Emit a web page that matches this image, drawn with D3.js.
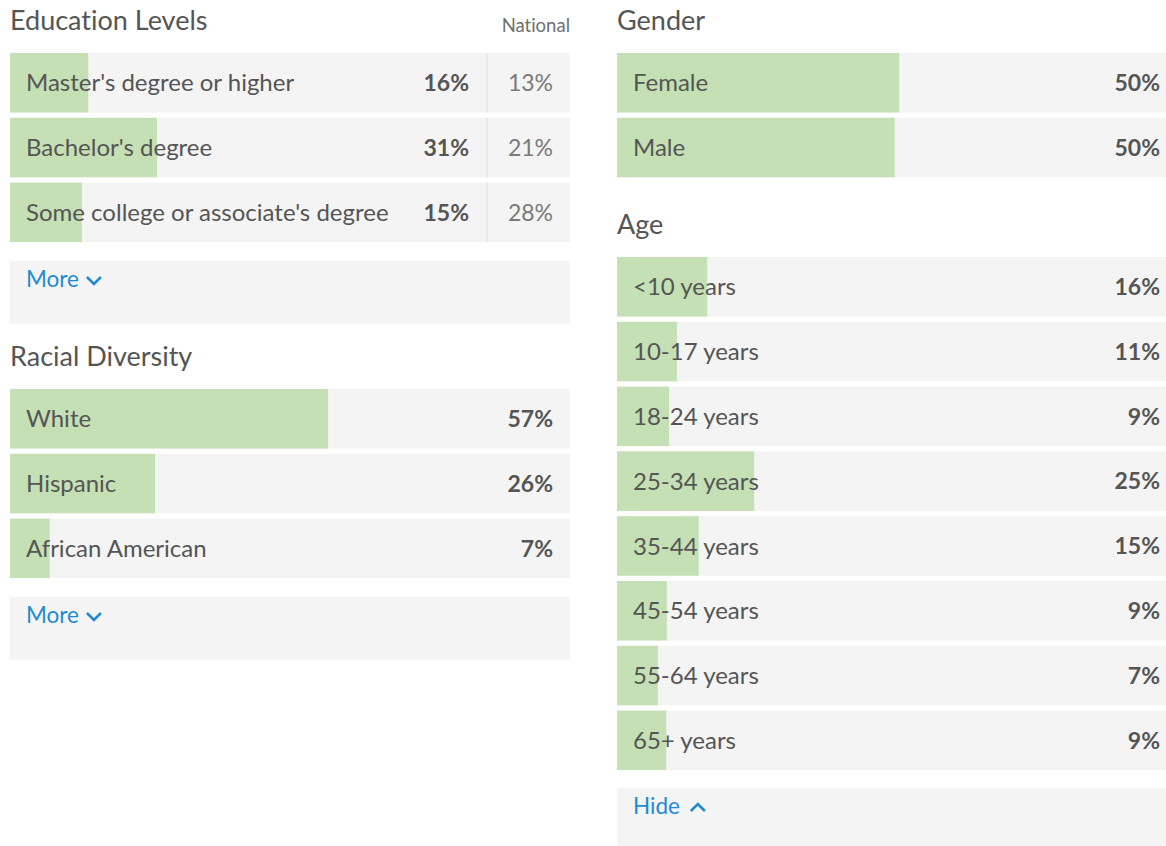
<!DOCTYPE html>
<html>
<head>
<meta charset="utf-8">
<script src="https://cdn.jsdelivr.net/npm/d3@7"></script>
<style>
  body { margin: 0; background: #fff; }
  svg { display: block; font-family: "Source Sans Pro", Lato, sans-serif; font-variant-ligatures: none; }
</style>
</head>
<body>
<div id="chart"></div>
<script>
// values (bar widths are unrounded, labels are rounded)
const eduLabels = ["Master's degree or higher", "Bachelor's degree", "Some college or associate's degree"];
const eduValues = [16.4, 30.8, 15.1];
const eduNational = [13, 21, 28];

const raceLabels = ["White", "Hispanic", "African American"];
const raceValues = [56.8, 25.9, 7.1];

const genderLabels = ["Female", "Male"];
const genderValues = [50.4, 49.6];

const ageLabels = ["<10 years", "10-17 years", "18-24 years", "25-34 years", "35-44 years", "45-54 years", "55-64 years", "65+ years"];
const ageValues = [16.1, 10.7, 9.3, 24.5, 14.6, 8.9, 7.3, 8.8];

const W = 1166, H = 846;
const GREEN = "#c5e0b4", GREY = "#f4f4f4", TEXT = "#555", BLUE = "#1f8ad2";
const STEP = 64.8, ROWH = 59.5, PANELW = 560;

const svg = d3.select("#chart")
    .append("svg")
    .attr("width", W)
    .attr("height", H);

const fmt = v => Math.round(v) + "%";

function title(x, y, text) {
    svg.append("text")
        .attr("x", x)
        .attr("y", y)
        .attr("font-size", "27px")
        .attr("fill", TEXT)
        .text(text);
}

// one block of bars; national column is optional
function section(x0, y0, labels, values, national) {
    const n = labels.length;
    const y = d3.scaleBand()
        .domain(labels)
        .range([y0, y0 + n * STEP])
        .paddingInner((STEP - ROWH) / STEP)
        .paddingOuter((STEP - ROWH) / STEP / 2)
        .align(0);

    // with a national column the bar only spans the part left of the divider
    const barW = national ? 477 : PANELW;
    const x = d3.scaleLinear().domain([0, 100]).range([0, barW]);

    const g = svg.append("g").attr("transform", `translate(${x0},0)`);
    const rows = g.selectAll("g.row")
        .data(labels)
        .join("g")
        .attr("class", "row")
        .attr("transform", d => `translate(0,${y(d)})`);

    rows.append("rect")
        .attr("width", PANELW)
        .attr("height", y.bandwidth())
        .attr("fill", GREY);

    rows.append("rect")
        .attr("width", (d, i) => x(values[i]))
        .attr("height", y.bandwidth())
        .attr("fill", GREEN);

    rows.append("text")
        .attr("x", 16)
        .attr("y", y.bandwidth() / 2)
        .attr("dy", "0.36em")
        .attr("font-size", "24px")
        .attr("fill", TEXT)
        .text(d => d);

    rows.append("text")
        .attr("x", national ? barW - 18 : PANELW - 17)
        .attr("y", y.bandwidth() / 2)
        .attr("dy", "0.36em")
        .attr("text-anchor", "end")
        .attr("font-size", "23px")
        .attr("font-weight", "bold")
        .attr("fill", TEXT)
        .text((d, i) => fmt(values[i]));

    if (national) {
        rows.append("line")
            .attr("x1", barW).attr("x2", barW)
            .attr("y1", 0).attr("y2", y.bandwidth())
            .attr("stroke", "#dcdcdc")
            .attr("stroke-width", 1);

        rows.append("text")
            .attr("x", PANELW - 17)
            .attr("y", y.bandwidth() / 2)
            .attr("dy", "0.36em")
            .attr("text-anchor", "end")
            .attr("font-size", "23px")
            .attr("fill", "#7a7a7a")
            .text((d, i) => fmt(national[i]));
    }
    return y0 + n * STEP;
}

function toggle(x0, y0, label, up) {
    svg.append("rect")
        .attr("x", x0)
        .attr("y", y0)
        .attr("width", PANELW)
        .attr("height", 63)
        .attr("fill", GREY);

    const t = svg.append("text")
        .attr("x", x0 + 16)
        .attr("y", y0 + 26)
        .attr("font-size", "22.5px")
        .attr("fill", BLUE)
        .text(label);

    const tx = x0 + 16 + t.node().getComputedTextLength() + (up ? 11 : 8);
    const cy = y0 + 19;
    svg.append("path")
        .attr("d", up
            ? `M${tx},${cy + 4} L${tx + 7},${cy - 3} L${tx + 14},${cy + 4}`
            : `M${tx},${cy - 3} L${tx + 7},${cy + 4} L${tx + 14},${cy - 3}`)
        .attr("fill", "none")
        .attr("stroke", BLUE)
        .attr("stroke-width", 2.6);
}

// left column
title(10, 30, "Education Levels");
svg.append("text")
    .attr("x", 570)
    .attr("y", 32)
    .attr("text-anchor", "end")
    .attr("font-size", "18.5px")
    .attr("fill", "#6f6f6f")
    .text("National");
section(10, 53, eduLabels, eduValues, eduNational);
toggle(10, 261, "More", false);

title(10, 366, "Racial Diversity");
section(10, 389, raceLabels, raceValues);
toggle(10, 597, "More", false);

// right column (runs past the window edge)
title(617, 30, "Gender");
section(617, 53, genderLabels, genderValues);

title(617, 234, "Age");
section(617, 257, ageLabels, ageValues);
toggle(617, 788, "Hide", true);
</script>
</body>
</html>
